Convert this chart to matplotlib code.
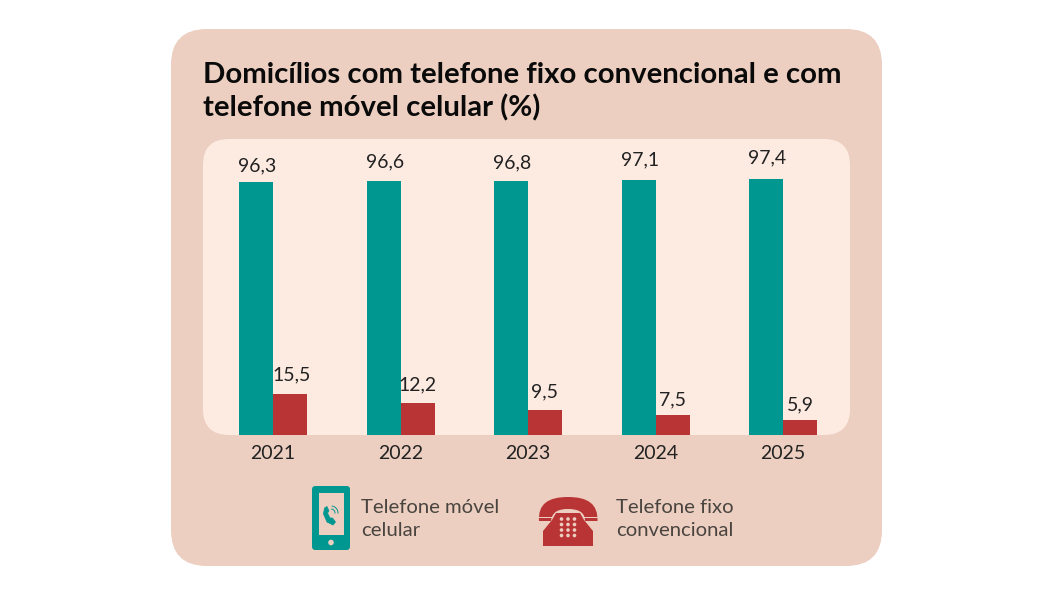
import matplotlib
matplotlib.use("Agg")
import matplotlib.pyplot as plt
from matplotlib.patches import FancyBboxPatch, Circle, PathPatch, Rectangle
from matplotlib.path import Path
import numpy as np

plt.rcParams['font.family'] = ['Lato', 'DejaVu Sans']

years = ["2021", "2022", "2023", "2024", "2025"]
movel = [96.3, 96.6, 96.8, 97.1, 97.4]
fixo = [15.5, 12.2, 9.5, 7.5, 5.9]
movel_labels = ["96,3", "96,6", "96,8", "97,1", "97,4"]
fixo_labels = ["15,5", "12,2", "9,5", "7,5", "5,9"]

titulo = "Domicílios com telefone fixo convencional e com\ntelefone móvel celular (%)"
legenda_movel = "Telefone móvel\ncelular"
legenda_fixo = "Telefone fixo\nconvencional"

TEAL = "#009790"
RED = "#b93535"
PANEL = "#eccfc0"
INNER = "#fdebe2"
TEXT = "#222222"
LEG_TEXT = "#4a4440"

W, H = 1060, 596
fig = plt.figure(figsize=(W / 100, H / 100), dpi=100, facecolor="white")

# background layer in pixel coordinates
bg = fig.add_axes([0, 0, 1, 1])
bg.set_xlim(0, W)
bg.set_ylim(H, 0)
bg.axis("off")


def rounded(ax, x0, y0, x1, y1, r, color, z=1):
    p = FancyBboxPatch((x0 + r, y0 + r), x1 - x0 - 2 * r, y1 - y0 - 2 * r,
                       boxstyle="round,pad=%f,rounding_size=%f" % (r, r),
                       fc=color, ec="none", zorder=z)
    ax.add_patch(p)


rounded(bg, 171, 29, 882, 566, 36, PANEL)
rounded(bg, 203, 139, 850, 435, 26, INNER, 2)

bg.text(203, 92, titulo, fontsize=21.2, fontweight="bold", color="#0a0a0a",
        va="center", ha="left", linespacing=1.3, zorder=5)

# bars
ax = fig.add_axes([203 / W, (H - 435) / H, 647 / W, 296 / H])
ax.patch.set_alpha(0)
x = np.arange(len(years))
w = 34 / 127.5
ax.bar(x - w / 2, movel, width=w, color=TEAL)
ax.bar(x + w / 2, fixo, width=w, color=RED)
ax.set_xlim(-70 / 127.5, 4 + 67 / 127.5)
ax.set_ylim(0, 296 / 2.627)
ax.set_yticks([])
ax.set_xticks(x)
ax.set_xticklabels(years, fontsize=14, color=TEXT)
ax.tick_params(axis="x", length=0, pad=7)
for s in ax.spines.values():
    s.set_visible(False)

# value labels sit at slightly uneven heights above the bars
movel_gap = [5.5, 8, 6.5, 8.5, 9.5]
fixo_gap = [8, 7, 7, 5, 4.5]
for i in range(len(years)):
    ax.annotate(movel_labels[i], (x[i] - w / 2, movel[i]), xytext=(1, movel_gap[i]),
                textcoords="offset points", ha="center", va="bottom",
                fontsize=14, color=TEXT)
    ax.annotate(fixo_labels[i], (x[i] + w / 2, fixo[i]), xytext=(1 if i == 0 else 0, fixo_gap[i]),
                textcoords="offset points", ha="center", va="bottom",
                fontsize=14, color=TEXT)

# smartphone icon
rounded(bg, 312, 486, 350, 550, 3.5, TEAL, 3)
bg.add_patch(Rectangle((318.5, 493), 25, 41.5, fc=PANEL, ec="none", zorder=4))
bg.add_patch(Circle((331, 542.5), 2.8, fc=PANEL, ec="none", zorder=4))
handset = Path([(324.5, 508), (327, 506.5), (329, 511), (327.5, 513), (330, 518), (332.5, 518),
                (335.5, 522), (333, 525), (327, 522), (323.5, 514), (324.5, 508)],
               [Path.MOVETO] + [Path.LINETO] * 9 + [Path.CLOSEPOLY])
bg.add_patch(PathPatch(handset, fc=TEAL, ec=TEAL, lw=0.5, zorder=5))
for r in (4, 7):
    t = np.linspace(-80, 0, 12) * np.pi / 180
    bg.plot(331 + r * np.cos(t), 513 + r * np.sin(t), color=TEAL, lw=0.7, zorder=5)

# desk telephone icon
top = Path([(539, 521), (538, 504), (548, 497), (568, 497), (588, 497), (598, 504), (597.5, 521),
            (585, 521), (585, 512), (578, 509), (568, 509), (558, 509), (552, 512), (551, 521),
            (539, 521)],
           [Path.MOVETO, Path.CURVE4, Path.CURVE4, Path.CURVE4, Path.CURVE4, Path.CURVE4, Path.CURVE4,
            Path.LINETO, Path.CURVE4, Path.CURVE4, Path.CURVE4, Path.CURVE4, Path.CURVE4, Path.CURVE4,
            Path.CLOSEPOLY])
bg.add_patch(PathPatch(top, fc=RED, ec="none", zorder=3))
bg.add_patch(Rectangle((538, 516.5), 14, 1.3, fc=PANEL, ec="none", zorder=4))
bg.add_patch(Rectangle((584, 516.5), 14, 1.3, fc=PANEL, ec="none", zorder=4))
body = Path([(556, 513), (580, 513), (584, 520), (593, 531), (593, 546), (543, 546),
             (543, 531), (552, 520), (556, 513)],
            [Path.MOVETO] + [Path.LINETO] * 7 + [Path.CLOSEPOLY])
bg.add_patch(PathPatch(body, fc=RED, ec="none", zorder=3, joinstyle="round"))
for dx in (561.5, 568, 574.5):
    for dy in (519, 524.5, 530, 535.5):
        bg.add_patch(Circle((dx, dy), 1.8, fc=PANEL, ec="none", zorder=4))

bg.text(361, 519, legenda_movel, fontsize=14.6, color=LEG_TEXT, va="center", ha="left",
        linespacing=1.43, zorder=5)
bg.text(616, 519, legenda_fixo, fontsize=14.6, color=LEG_TEXT, va="center", ha="left",
        linespacing=1.43, zorder=5)

fig.savefig("out.png", dpi=100)
